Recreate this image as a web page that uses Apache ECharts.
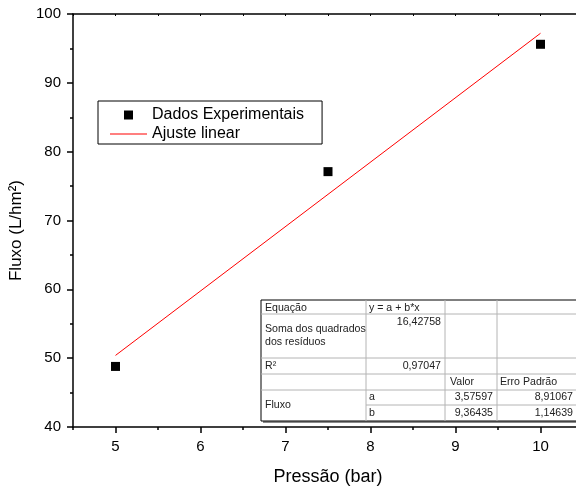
<!DOCTYPE html>
<html><head><meta charset="utf-8">
<script src="https://cdn.jsdelivr.net/npm/echarts@6/dist/echarts.min.js"></script>
<style>html,body{margin:0;padding:0;background:#fff}#c{width:576px;height:486px}</style>
</head><body><div id="c"></div>
<script>
// ---- data ----
const pressao = [5, 7.5, 10];
const fluxo = [48.8, 77.1, 95.6];
const ajusteX = [5, 10];
const ajusteY = [50.4, 97.2];
const xTickLabels = [5, 6, 7, 8, 9, 10];
const yTickLabels = [40, 50, 60, 70, 80, 90, 100];
const serieNomes = ['Dados Experimentais', 'Ajuste linear'];
const eixoX = 'Pressão (bar)';
const eixoY = 'Fluxo (L/hm²)';
const tabEquacao = ['Equação', 'y = a + b*x'];
const tabSoma = ['Soma dos quadrados\ndos resíduos', '16,42758'];
const tabR2 = ['R²', '0,97047'];
const tabCabec = ['Valor', 'Erro Padrão'];
const tabGrupo = 'Fluxo';
const tabParamA = ['a', '3,57597', '8,91067'];
const tabParamB = ['b', '9,36435', '1,14639'];

// ---- chart ----
const FONT = '"Liberation Sans", Arial, sans-serif';
const chart = echarts.init(document.getElementById('c'), null, {renderer: 'canvas'});
const axisLine = {show: true, onZero: false, lineStyle: {color: '#000', width: 1.5}};
const tickStyle = {color: '#000', width: 1.5};

// table drawing (layout only)
const tx = [261, 366, 445, 497, 582];
const ty = [300, 314, 358, 374, 390, 405, 421];
const lineCol = '#b4b4b4';
const g = [];
g.push({type: 'rect', shape: {x: tx[0] + 2, y: ty[0] + 2, width: tx[4] - tx[0], height: ty[6] - ty[0]}, style: {fill: '#8a8a8a'}, z: 100});
g.push({type: 'rect', shape: {x: tx[0], y: ty[0], width: tx[4] - tx[0], height: ty[6] - ty[0]}, style: {fill: '#fff', stroke: '#000', lineWidth: 1}, z: 101});
[1, 2, 3, 4].forEach(i => g.push({type: 'line', shape: {x1: tx[0], y1: ty[i], x2: tx[4], y2: ty[i]}, style: {stroke: lineCol, lineWidth: 1}, z: 102}));
g.push({type: 'line', shape: {x1: tx[1], y1: ty[5], x2: tx[4], y2: ty[5]}, style: {stroke: lineCol, lineWidth: 1}, z: 102});
[1, 2, 3].forEach(i => g.push({type: 'line', shape: {x1: tx[i], y1: ty[0], x2: tx[i], y2: ty[6]}, style: {stroke: lineCol, lineWidth: 1}, z: 102}));
function txt(s, x, y, align, va) {
  g.push({type: 'text', x: x, y: y, style: {text: s, fill: '#222', font: '10.6px ' + FONT, align: align || 'left', verticalAlign: va || 'middle', lineHeight: 13}, z: 103});
}
txt(tabEquacao[0], tx[0] + 4, 308);
txt(tabEquacao[1], tx[1] + 3, 308);
txt(tabSoma[0], tx[0] + 4, 336);
txt(tabSoma[1], tx[2] - 4, 322, 'right');
txt(tabR2[0], tx[0] + 4, 366);
txt(tabR2[1], tx[2] - 4, 366, 'right');
txt(tabCabec[0], tx[2] + 5, 382);
txt(tabCabec[1], tx[3] + 3, 382);
txt(tabGrupo, tx[0] + 4, 405);
txt(tabParamA[0], tx[1] + 3, 397.5);
txt(tabParamA[1], tx[3] - 4, 397.5, 'right');
txt(tabParamA[2], 573, 397.5, 'right');
txt(tabParamB[0], tx[1] + 3, 413);
txt(tabParamB[1], tx[3] - 4, 413, 'right');
txt(tabParamB[2], 573, 413, 'right');

const option = {
  animation: false,
  backgroundColor: '#fff',
  textStyle: {fontFamily: FONT, color: '#000'},
  grid: {left: 73, top: 14, width: 510, height: 413, containLabel: false, outerBoundsMode: 'none'},
  legend: {
    orient: 'vertical', left: 98, top: 101,
    borderColor: '#000', borderWidth: 1, padding: [6, 18, 2, 12], itemGap: 3,
    itemWidth: 37, itemHeight: 14,
    textStyle: {fontSize: 16, color: '#000', fontFamily: FONT},
    data: [
      {name: serieNomes[0], icon: 'path://M0,0M14,14M2.5,2.5h9v9h-9z', itemStyle: {color: '#000', opacity: 1}},
      {name: serieNomes[1], icon: 'path://M0,6.5h37v1h-37z', itemStyle: {color: '#ff0000'}}
    ]
  },
  xAxis: [
    {type: 'value', position: 'bottom', min: 4.5, max: 10.5, interval: 0.5,
     axisLine: axisLine, axisTick: {show: true, length: 3, lineStyle: tickStyle},
     axisLabel: {customValues: xTickLabels, fontSize: 15, color: '#000', margin: 12, fontFamily: FONT},
     splitLine: {show: false},
     name: eixoX, nameLocation: 'middle', nameGap: 41,
     nameTextStyle: {fontSize: 18, color: '#000', fontFamily: FONT}},
    {type: 'value', position: 'bottom', min: 4.5, max: 10.5, interval: 0.5,
     axisLine: {show: false}, axisTick: {show: true, customValues: xTickLabels, length: 6, lineStyle: tickStyle},
     axisLabel: {show: false}, splitLine: {show: false}},
    {type: 'value', position: 'top', min: 4.5, max: 10.5, interval: 0.5,
     axisLine: axisLine, axisTick: {show: true, inside: true, length: 2, lineStyle: {color: '#000', width: 1}},
     axisLabel: {show: false}, splitLine: {show: false}}
  ],
  yAxis: [
    {type: 'value', position: 'left', min: 40, max: 100, interval: 10,
     axisLine: axisLine, axisTick: {show: true, length: 6, lineStyle: tickStyle},
     minorTick: {show: true, splitNumber: 2, length: 3, lineStyle: tickStyle},
     axisLabel: {customValues: yTickLabels, fontSize: 15, color: '#000', margin: 12, fontFamily: FONT},
     splitLine: {show: false},
     name: eixoY, nameLocation: 'middle', nameGap: 45,
     nameTextStyle: {fontSize: 17, color: '#000', fontFamily: FONT, padding: [0, 0, 0, -20]}}
  ],
  series: [
    {name: serieNomes[0], type: 'scatter', xAxisIndex: 0, yAxisIndex: 0,
     symbol: 'rect', symbolSize: 9, itemStyle: {color: '#000', opacity: 1},
     emphasis: {disabled: true},
     data: pressao.map((x, i) => [x, fluxo[i]]), z: 5},
    {name: serieNomes[1], type: 'line', xAxisIndex: 0, yAxisIndex: 0,
     symbol: 'none', showSymbol: false, color: '#ff0000',
     lineStyle: {color: '#ff0000', width: 1},
     data: ajusteX.map((x, i) => [x, ajusteY[i]]), z: 4}
  ],
  graphic: g
};
chart.setOption(option);
</script></body></html>
